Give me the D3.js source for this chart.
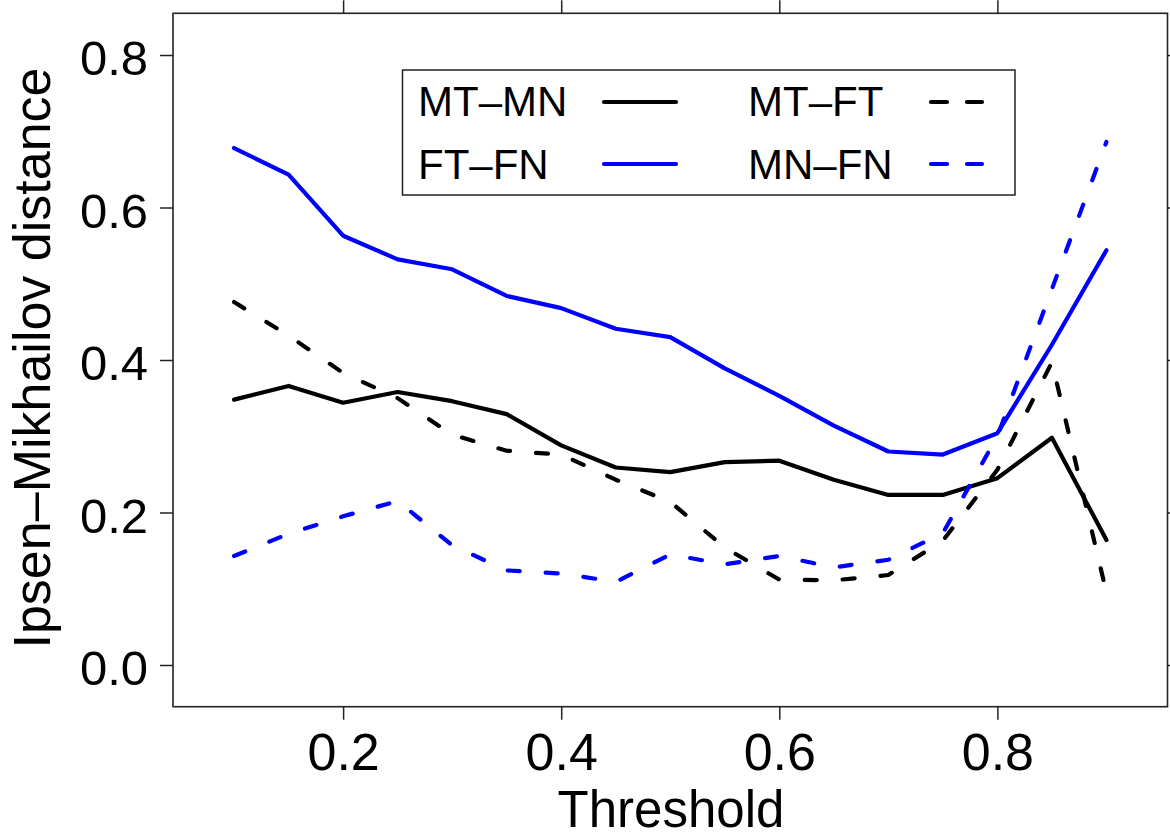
<!DOCTYPE html>
<html>
<head>
<meta charset="utf-8">
<script src="https://cdn.jsdelivr.net/npm/d3@7"></script>
<style>
  html, body { margin: 0; padding: 0; background: #fff; }
  svg { display: block; font-family: "Liberation Sans", Arial, Helvetica, sans-serif; }
</style>
</head>
<body>
<svg id="chart" width="1170" height="838"></svg>
<script>
// ---- data ----
const thresholds = [0.10, 0.15, 0.20, 0.25, 0.30, 0.35, 0.40, 0.45, 0.50, 0.55, 0.60, 0.65, 0.70, 0.75, 0.80, 0.85, 0.90];
const MT_MN = [0.348, 0.366, 0.344, 0.358, 0.346, 0.329, 0.288, 0.259, 0.253, 0.266, 0.268, 0.243, 0.223, 0.223, 0.245, 0.298, 0.164];
const FT_FN = [0.678, 0.643, 0.563, 0.532, 0.519, 0.484, 0.468, 0.441, 0.430, 0.389, 0.353, 0.314, 0.280, 0.276, 0.304, 0.420, 0.544];
const MT_FT = [0.476, 0.432, 0.383, 0.350, 0.302, 0.281, 0.276, 0.243, 0.214, 0.154, 0.112, 0.111, 0.118, 0.163, 0.256, 0.397, 0.095];
const MN_FN = [0.143, 0.172, 0.195, 0.215, 0.157, 0.124, 0.120, 0.109, 0.145, 0.132, 0.143, 0.128, 0.138, 0.173, 0.300, 0.493, 0.686];
const xTicks = [0.2, 0.4, 0.6, 0.8];
const yTicks = [0.0, 0.2, 0.4, 0.6, 0.8];
const seriesNames = ["MT\u2013MN", "FT\u2013FN", "MT\u2013FT", "MN\u2013FN"];
const seriesColors = ["#000000", "#0000ff", "#000000", "#0000ff"];
const seriesDashed = [false, false, true, true];
const xLabel = "Threshold";
const yLabel = "Ipsen\u2013Mikhailov distance";

// ---- layout ----
const L = 173, R = 1167.5, T = 13.3, B = 706.7;
const svg = d3.select("#chart");

const x = d3.scaleLinear().domain([0.044, 0.956]).range([L, R]);
const y = d3.scaleLinear().domain([-0.0547, 0.8547]).range([B, T]);

// frame
svg.append("rect")
  .attr("x", L).attr("y", T).attr("width", R - L).attr("height", B - T)
  .attr("fill", "none").attr("stroke", "#222").attr("stroke-width", 1.6);

function styleAxis(g, fs) {
  g.select(".domain").remove();
  g.selectAll(".tick line").attr("stroke", "#222").attr("stroke-width", 1.5);
  g.selectAll(".tick text").attr("fill", "#000").style("font-size", fs + "px")
    .style("font-family", "'Liberation Sans', Arial, Helvetica, sans-serif");
}

// bottom axis
const gB = svg.append("g").attr("transform", `translate(0,${B})`)
  .call(d3.axisBottom(x).tickValues(xTicks).tickSize(13).tickPadding(13).tickFormat(d3.format(".1f")));
styleAxis(gB, 52);

// top axis (ticks only)
const gT = svg.append("g").attr("transform", `translate(0,${T})`)
  .call(d3.axisTop(x).tickValues(xTicks).tickSize(13).tickFormat(""));
styleAxis(gT, 10);

// left axis
const gL = svg.append("g").attr("transform", `translate(${L},0)`)
  .call(d3.axisLeft(y).tickValues(yTicks).tickSize(13).tickPadding(12).tickFormat(d3.format(".1f")));
styleAxis(gL, 49);
gL.selectAll(".tick text").attr("dy", "0.4em");

// right axis (ticks only)
const gR = svg.append("g").attr("transform", `translate(${R},0)`)
  .call(d3.axisRight(y).tickValues(yTicks).tickSize(13).tickFormat(""));
styleAxis(gR, 10);

// axis titles
svg.append("text").attr("x", 671).attr("y", 827).attr("text-anchor", "middle")
  .style("font-size", "51px").text(xLabel);
svg.append("text").attr("transform", "translate(50,358) rotate(-90)").attr("text-anchor", "middle")
  .style("font-size", "52px").text(yLabel);

// lines
const allSeries = [MT_MN, FT_FN, MT_FT, MN_FN];
const line = d3.line().x((d, i) => x(thresholds[i])).y(d => y(d));
const plot = svg.append("g");
allSeries.forEach((vals, k) => {
  plot.append("path").datum(vals)
    .attr("d", line)
    .attr("fill", "none")
    .attr("stroke", seriesColors[k])
    .attr("stroke-width", 4.2)
    .attr("stroke-linecap", "round")
    .attr("stroke-linejoin", "round")
    .attr("stroke-dasharray", seriesDashed[k] ? "12,26" : null);
});

// legend
const lg = svg.append("g");
lg.append("rect").attr("x", 402.5).attr("y", 70).attr("width", 612.5).attr("height", 125)
  .attr("fill", "#fff").attr("stroke", "#222").attr("stroke-width", 1.5);
const legPos = [
  {tx: 418, ty: 116, lx1: 604, lx2: 676, ly: 102},
  {tx: 418, ty: 179, lx1: 604, lx2: 676, ly: 164},
  {tx: 748, ty: 116, lx1: 931, lx2: 982, ly: 102},
  {tx: 748, ty: 179, lx1: 931, lx2: 982, ly: 164}
];
seriesNames.forEach((name, k) => {
  const p = legPos[k];
  lg.append("text").attr("x", p.tx).attr("y", p.ty).style("font-size", "42px").text(name);
  lg.append("line").attr("x1", p.lx1).attr("x2", p.lx2).attr("y1", p.ly).attr("y2", p.ly)
    .attr("stroke", seriesColors[k]).attr("stroke-width", 4.2).attr("stroke-linecap", "round")
    .attr("stroke-dasharray", seriesDashed[k] ? "16,20" : null);
});
</script>
</body>
</html>
